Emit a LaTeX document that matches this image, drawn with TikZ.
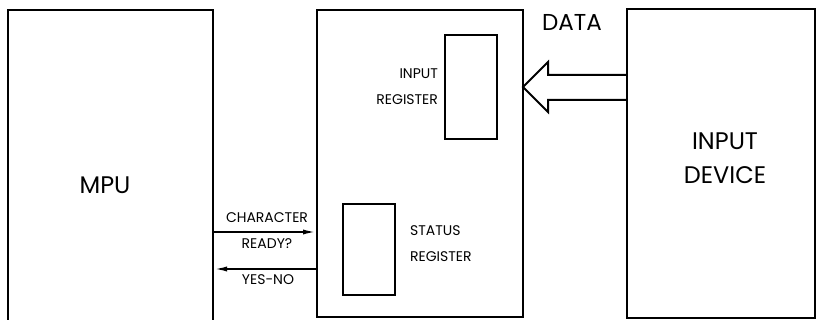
\documentclass[tikz,border=0pt]{standalone}
\usepackage{fontspec}
\setmainfont{Poppins}
\usetikzlibrary{arrows.meta}
\begin{document}
\begin{tikzpicture}[x=0.5pt, y=-0.5pt,
    box/.style={draw, line width=1pt, inner sep=0pt, outer sep=0pt, anchor=north west},
    sig/.style={line width=1pt, -{Latex[length=7pt, width=2.5pt]}},
    bigtext/.style={font=\fontsize{12}{17}\selectfont, align=center},
    smalltext/.style={font=\fontsize{7}{13}\selectfont}]
            \useasboundingbox (0,0) rectangle (818,320);

            % Processor, interface and device
            \node[box, minimum width=102.5pt, minimum height=160pt] (mpu) at (8,10) {};
            \node[box, minimum width=103pt, minimum height=153.5pt] (iface) at (317,10) {};
            \node[box, minimum width=94pt, minimum height=154.5pt] (dev) at (627,9) {};

            % Registers inside the interface
            \node[box, minimum width=26pt, minimum height=52pt] (inreg) at (445,35) {};
            \node[box, minimum width=26pt, minimum height=45.5pt] (streg) at (343,204) {};

            % Labels
            \node[bigtext] (mpulabel) at (105,185) {MPU};
            \node[bigtext] (devlabel) at (725,158) {INPUT\\DEVICE};
            \node[bigtext, font=\fontsize{11.5}{14}\selectfont] (datalabel) at (572,22) {DATA};
            \node[smalltext, align=right, anchor=east] (inreglabel) at (inreg.west |- 0,87) {INPUT\\REGISTER};
            \node[smalltext, align=left, anchor=west] (streglabel) at (403,244) {STATUS\\REGISTER};

            % Handshake between MPU and interface
            \coordinate (ask) at (mpu.east |- 0,232);
            \coordinate (answer) at (iface.west |- 0,269);
            \draw[sig] (ask) -- (ask -| iface.west);
            \draw[sig] (answer) -- (answer -| mpu.east);
            \node[smalltext, align=center] (asklabel) at (267,230.5) {CHARACTER\\READY?};
            \node[smalltext] (answerlabel) at (268,280) {YES-NO};

            % Hollow data arrow from device into the input register side
            \draw[line width=1pt] (dev.west |- 0,75) -- (548,75) -- (548,62)
                -- (iface.east |- 0,87) -- (548,112) -- (548,100) -- (dev.west |- 0,100);
        \end{tikzpicture}
\end{document}
